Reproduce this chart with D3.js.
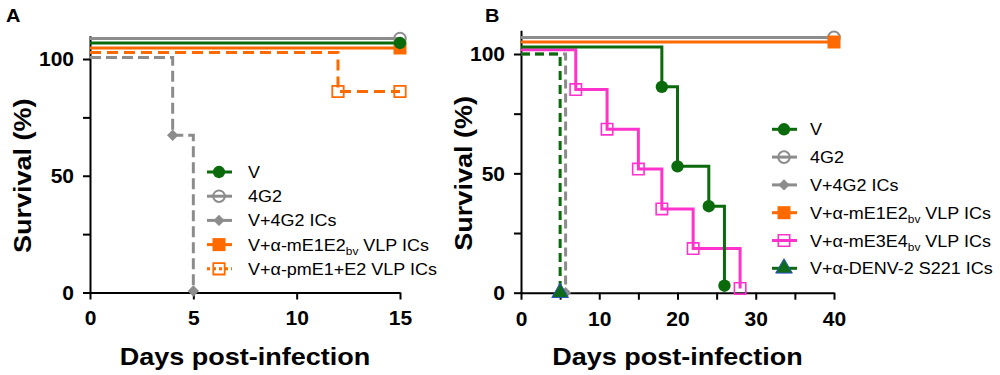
<!DOCTYPE html>
<html>
<head>
<meta charset="utf-8">
<script src="https://cdn.jsdelivr.net/npm/d3@7"></script>
<style>
  body { margin: 0; background: #fff; }
  svg { display: block; font-family: "Liberation Sans", Arial, sans-serif; }
  text { white-space: pre; }
  .axis path, .axis line { stroke: #000; stroke-width: 2px; }
  .axis .tick text { font-size: 21px; font-weight: bold; fill: #000; }
</style>
</head>
<body>
<svg id="chart" width="1000" height="375"></svg>
<script>
// DATA

// panel A : survival (%) at each event day, first point is day 0
const aVDays = [0, 15];
const aVSurv = [100, 100];
const a4G2Days = [0, 15];
const a4G2Surv = [100, 100];
const aV4G2Days = [0, 4, 5];
const aV4G2Surv = [100, 66.7, 0];
const aME1E2Days = [0, 15];
const aME1E2Surv = [100, 100];
const aPmE1E2Days = [0, 12, 15];
const aPmE1E2Surv = [100, 83.3, 83.3];

// legend labels, split as [text, subscript, text]
const aLabels = [
  ["V"],
  ["4G2"],
  ["V+4G2 ICs"],
  ["V+α-mE1E2", "bv", " VLP ICs"],
  ["V+α-pmE1+E2 VLP ICs"]
];

// panel B
const bVDays = [0, 18, 20, 24, 26];
const bVSurv = [100, 83.3, 50, 33.3, 0];
const b4G2Days = [0, 40];
const b4G2Surv = [100, 100];
const bV4G2Days = [0, 5.7];
const bV4G2Surv = [100, 0];
const bME1E2Days = [0, 40];
const bME1E2Surv = [100, 100];
const bME3E4Days = [0, 7, 11, 15, 18, 22, 28];
const bME3E4Surv = [100, 83.3, 66.7, 50, 33.3, 16.7, 0];
const bS221Days = [0, 5];
const bS221Surv = [100, 0];

const bLabels = [
  ["V"],
  ["4G2"],
  ["V+4G2 ICs"],
  ["V+α-mE1E2", "bv", " VLP ICs"],
  ["V+α-mE3E4", "bv", " VLP ICs"],
  ["V+α-DENV-2 S221 ICs"]
];

const aXTicks = [0, 5, 10, 15];
const bXTicks = [0, 5, 10, 15, 20, 25, 30, 35, 40];
const yTicks = [0, 25, 50, 75, 100];


// STYLES

const green = "#0b6a0b", gray = "#8c8c8c", orange = "#ff6a00", pink = "#ff33cc";

// marker shapes (rot = rotation in degrees, used to turn the square into a diamond)
const mk = {
  dot:      { type: d3.symbolCircle,   size: 120, fill: green,  stroke: "none" },
  ring:     { type: d3.symbolCircle,   size: 105, fill: "none", stroke: gray,   sw: 2 },
  diamond:  { type: d3.symbolSquare,   size: 64,  fill: gray,   stroke: "none", rot: 45 },
  square:   { type: d3.symbolSquare,   size: 169, fill: orange, stroke: "none" },
  openSqO:  { type: d3.symbolSquare,   size: 130, fill: "none", stroke: orange, sw: 1.8 },
  openSqP:  { type: d3.symbolSquare,   size: 130, fill: "none", stroke: pink,   sw: 1.6 },
  triangle: { type: d3.symbolTriangle, size: 120, fill: "#0f6a1a", stroke: "#2a55c8", sw: 1 }
};

// series of panel A, in drawing order (off = pixel offset used to separate curves at 100%)
const seriesA = [
  { days: aV4G2Days,   surv: aV4G2Surv,   color: gray,   dash: "11,5", marker: mk.diamond, off: 1.5, leg: 2 },
  { days: aPmE1E2Days, surv: aPmE1E2Surv, color: orange, dash: "11,6", marker: mk.openSqO, off: 6.5, leg: 4, legDash: "3,3" },
  { days: a4G2Days,    surv: a4G2Surv,    color: gray,   dash: null,   marker: mk.ring,    off: 20.5, leg: 1 },
  { days: aME1E2Days,  surv: aME1E2Surv,  color: orange, dash: null,   marker: mk.square,  off: 11,  leg: 3 },
  { days: aVDays,      surv: aVSurv,      color: green,  dash: null,   marker: mk.dot,     off: 16,  leg: 0 }
];

const seriesB = [
  { days: bV4G2Days,  surv: bV4G2Surv,  color: gray,   dash: "9,5", marker: mk.diamond,  off: 0,    leg: 2 },
  { days: bS221Days,  surv: bS221Surv,  color: green,  dash: "9,5", marker: mk.triangle, off: 0,    leg: 5 },
  { days: b4G2Days,   surv: b4G2Surv,   color: gray,   dash: null,  marker: mk.ring,     off: 16.6, leg: 1 },
  { days: bME1E2Days, surv: bME1E2Surv, color: orange, dash: null,  marker: mk.square,   off: 12,   leg: 3 },
  { days: bME3E4Days, surv: bME3E4Surv, color: pink,   dash: null,  marker: mk.openSqP,  off: 4.3,  leg: 4 },
  { days: bVDays,     surv: bVSurv,     color: green,  dash: null,  marker: mk.dot,      off: 7,    leg: 0 }
];

const svg = d3.select("#chart");

// draw a marker symbol
function marker(g, m, x, y) {
  g.append("path")
    .attr("d", d3.symbol().type(m.type).size(m.size)())
    .attr("transform", `translate(${x},${y}) rotate(${m.rot || 0})`)
    .attr("fill", m.fill)
    .attr("stroke", m.stroke)
    .attr("stroke-width", m.sw || 0);
}

// text slightly stretched horizontally, like the original figure
function label(g, parts, x, y, size, weight, sx, rot) {
  const t = g.append("text")
    .attr("transform", `translate(${x},${y})` + (rot ? ` rotate(${rot})` : "") + ` scale(${sx},1)`)
    .attr("font-size", size)
    .attr("font-weight", weight);
  parts.forEach((p, i) => {
    if (i % 2 === 1) {
      t.append("tspan").attr("font-size", size * 0.66).attr("dy", 4).text(p);
    } else {
      t.append("tspan").attr("dy", i > 0 ? -4 : 0).text(p);
    }
  });
  return t;
}

function drawPanel(p) {
  const g = svg.append("g");

  const x = d3.scaleLinear().domain(p.xDomain).range(p.xRange);
  const y = d3.scaleLinear().domain([0, 110]).range([p.y0, p.y0 - 110 * p.ppu]);

  // axes
  g.append("g")
    .attr("class", "axis")
    .attr("transform", `translate(0,${p.y0})`)
    .call(d3.axisBottom(x)
      .tickValues(p.xTicks)
      .tickSize(7)
      .tickSizeOuter(0)
      .tickPadding(11)
      .tickFormat(d => d % p.xLabelStep === 0 ? d : ""));

  g.append("g")
    .attr("class", "axis")
    .attr("transform", `translate(${p.xRange[0]},0)`)
    .call(d3.axisLeft(y)
      .tickValues(yTicks)
      .tickSize(7)
      .tickSizeOuter(0)
      .tickPadding(9)
      .tickFormat(d => d % 50 === 0 ? d : ""));

  // survival curves
  const line = d3.line().curve(d3.curveStepAfter);
  p.series.forEach(s => {
    const pts = s.days.map((d, i) => [x(d), y(s.surv[i]) - s.off]);
    g.append("path")
      .attr("d", line(pts))
      .attr("fill", "none")
      .attr("stroke", s.color)
      .attr("stroke-width", 3)
      .attr("stroke-dasharray", s.dash);
    pts.slice(1).forEach(pt => marker(g, s.marker, pt[0], pt[1]));
  });

  // legend
  p.series.forEach(s => {
    const ly = p.legY + s.leg * p.legStep;
    g.append("line")
      .attr("x1", p.legX - 12).attr("x2", p.legX + 13)
      .attr("y1", ly).attr("y2", ly)
      .attr("stroke", s.color)
      .attr("stroke-width", 3)
      .attr("stroke-dasharray", s.legDash || null);
    marker(g, s.marker, p.legX, ly);
    label(g, p.labels[s.leg], p.legTextX, ly + 6, 16.5, "normal", 1.09);
  });

  // titles
  const cx = (p.xRange[0] + p.xRange[1]) / 2;
  label(g, ["Days post-infection"], cx, 365, 23.5, "bold", 1.15).attr("text-anchor", "middle");
  label(g, ["Survival (%)"], p.yTitleX, (y(0) + y(100)) / 2, 23.5, "bold", 1.15, -90).attr("text-anchor", "middle");
  label(g, [p.name], p.nameX, 22, 19, "bold", 1.05);
}

drawPanel({
  name: "A", nameX: 6,
  xDomain: [0, 15], xRange: [90, 400], xTicks: aXTicks, xLabelStep: 5,
  y0: 292.5, ppu: 2.335,
  series: seriesA, labels: aLabels,
  legX: 219, legTextX: 248, legY: 172, legStep: 24.2,
  yTitleX: 31
});

drawPanel({
  name: "B", nameX: 485,
  xDomain: [0, 40], xRange: [521, 834], xTicks: bXTicks, xLabelStep: 10,
  y0: 292.7, ppu: 2.387,
  series: seriesB, labels: bLabels,
  legX: 784, legTextX: 810, legY: 129.3, legStep: 27.8,
  yTitleX: 472
});
</script>
</body>
</html>
